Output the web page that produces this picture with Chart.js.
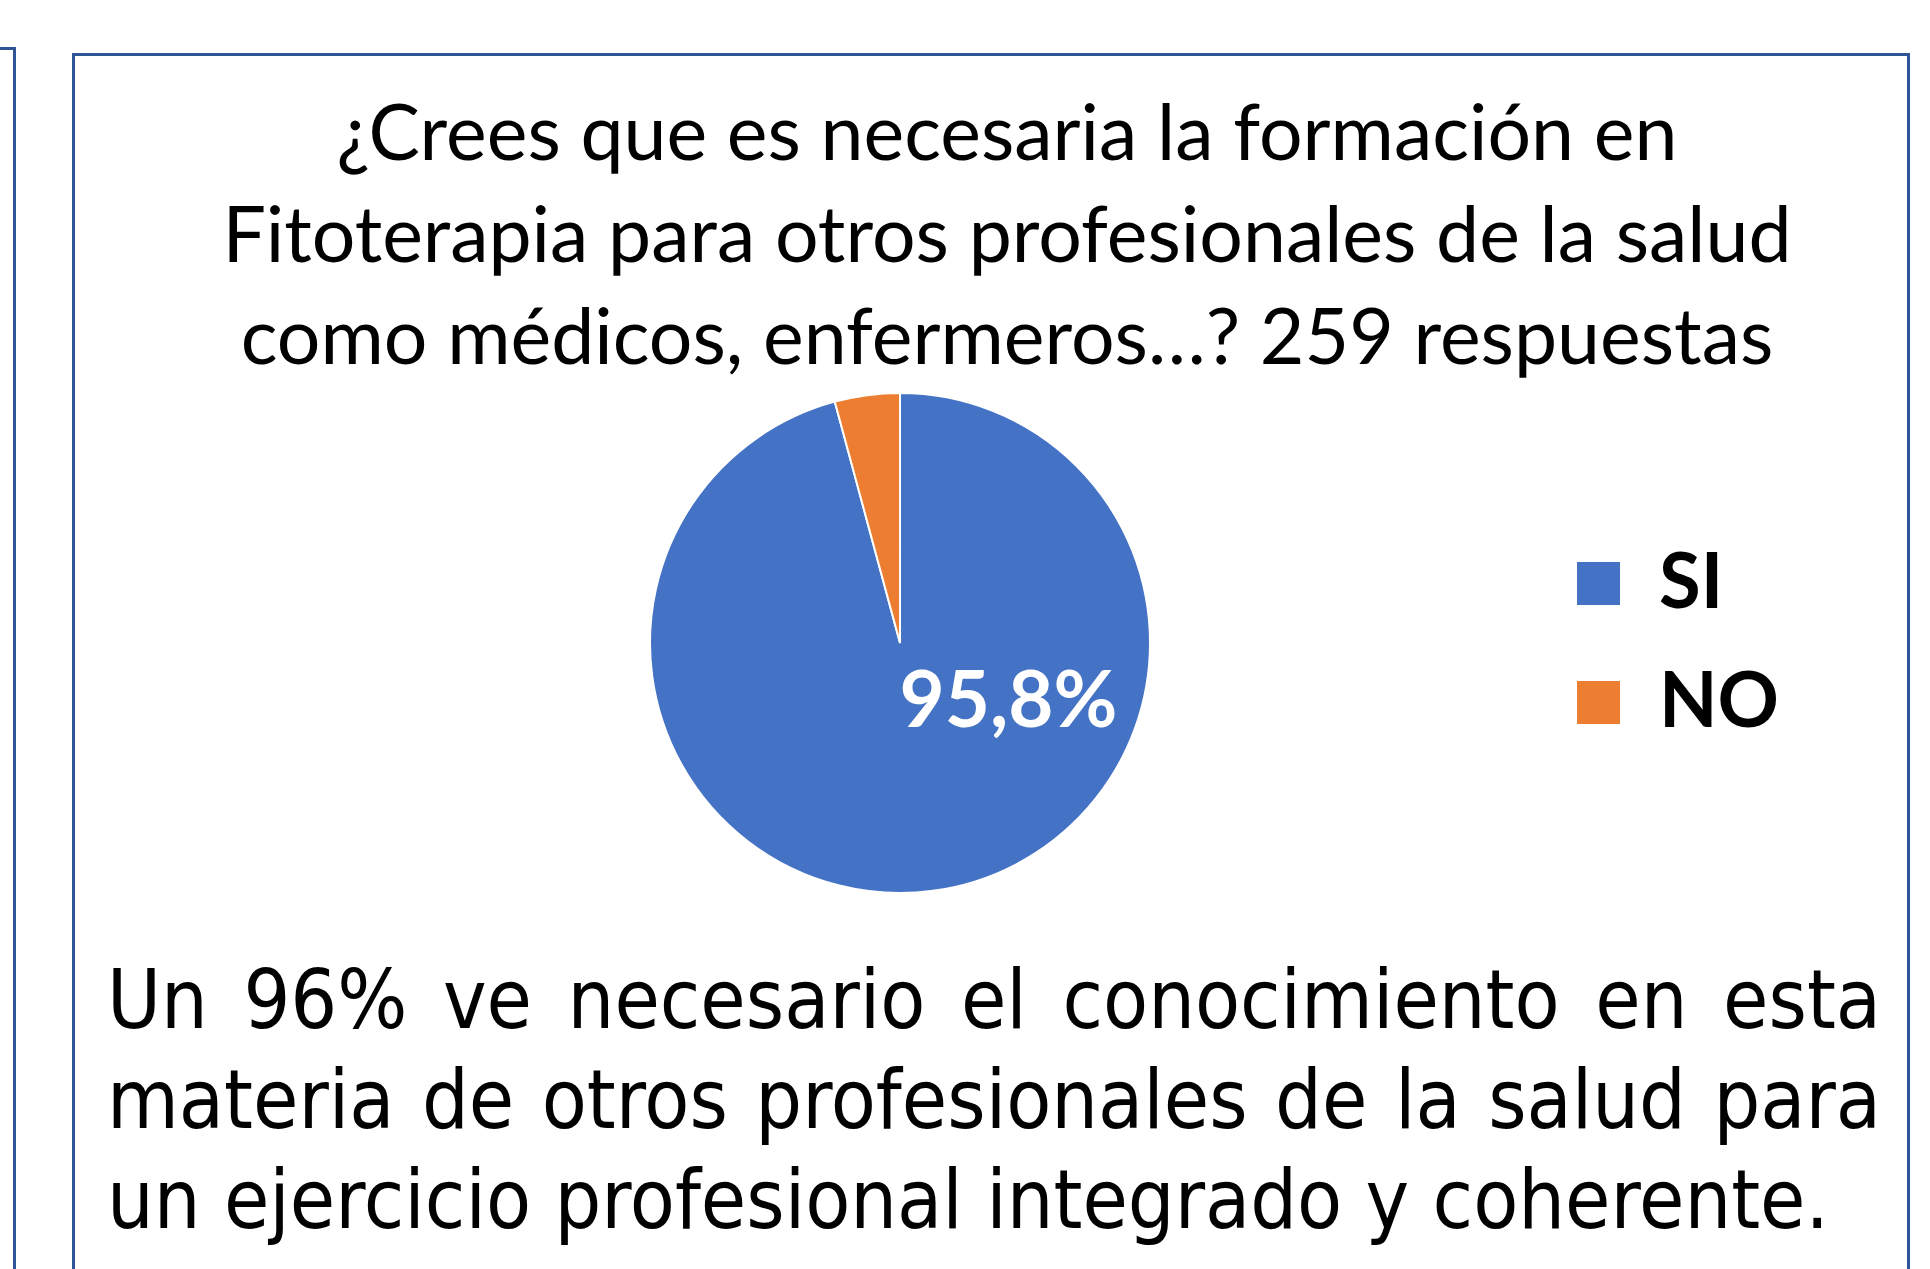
<!DOCTYPE html>
<html lang="es">
<head>
<meta charset="utf-8">
<title>Formación en Fitoterapia</title>
<script src="https://cdn.jsdelivr.net/npm/chart.js@4.4.0/dist/chart.umd.min.js"></script>
<style>
    body { margin: 0; width: 1930px; height: 1269px; overflow: hidden; background: #fff; position: relative; }
    #marcoIzq { position: absolute; left: 0; top: 47px; width: 13px; height: 1400px;
        border-top: 3px solid #2F5597; border-right: 3px solid #2F5597; }
    #marco { position: absolute; left: 72px; top: 53px; width: 1832px; height: 1400px;
        border: 3px solid #2F5597; }
    #titulo { position: absolute; left: 107px; width: 1800px; top: 79px; text-align: center;
        font-family: Lato, "Open Sans", sans-serif; font-size: 77px; line-height: 102px; color: #000; }
    #contenedor { position: absolute; left: 267px; top: 392px; width: 1522px; height: 502px; }
    #conclusion { position: absolute; left: 107px; width: 1774px; top: 950px;
        font-family: "DejaVu Sans Condensed", "DejaVu Sans", sans-serif; font-stretch: condensed;
        font-size: 82px; line-height: 100px; color: #000; }
    #conclusion div { text-align: justify; text-align-last: justify; white-space: nowrap; }
    #conclusion div.ultima { text-align-last: left; }
</style>
</head>
<body>
<div id="marcoIzq"></div>
<div id="marco"></div>
<div id="titulo"></div>
<div id="contenedor"><canvas id="grafico" width="1522" height="502"></canvas></div>
<div id="conclusion"></div>

<script>
// Datos de la encuesta (259 respuestas)
const titulo = [
    "¿Crees que es necesaria la formación en",
    "Fitoterapia para otros profesionales de la salud",
    "como médicos, enfermeros…? 259 respuestas"
];
const respuestas = ["SI", "NO"];
const porcentajes = [95.8, 4.2];
const colores = ["#4472C4", "#ED7D31"];
const conclusion = [
    "Un 96% ve necesario el conocimiento en esta",
    "materia de otros profesionales de la salud para",
    "un ejercicio profesional integrado y coherente."
];

function mostrarTextos() {
    document.getElementById("titulo").innerHTML = titulo.join("<br>");
    const cont = document.getElementById("conclusion");
    conclusion.forEach((linea, i) => {
        const div = document.createElement("div");
        div.textContent = linea;
        if (i === conclusion.length - 1) div.className = "ultima";
        cont.appendChild(div);
    });
}

// Etiqueta de porcentaje dentro del sector "SI"
const etiquetaPorcentaje = {
    id: "etiquetaPorcentaje",
    afterDatasetsDraw(chart) {
        const arco = chart.getDatasetMeta(0).data[0];
        if (!arco) return;
        const ctx = chart.ctx;
        const r = arco.outerRadius;
        const texto = porcentajes[0].toFixed(1).replace(".", ",") + "%";
        ctx.save();
        ctx.fillStyle = "#fff";
        ctx.font = "bold 78px Lato, 'Open Sans', sans-serif";
        ctx.textAlign = "center";
        ctx.textBaseline = "middle";
        ctx.fillText(texto, arco.x + r * 0.434, arco.y + r * 0.235);
        ctx.restore();
    }
};

function mostrarGrafico() {
    const ctx = document.getElementById("grafico").getContext("2d");
    new Chart(ctx, {
        type: "pie",
        data: {
            labels: respuestas,
            datasets: [{
                data: porcentajes,
                backgroundColor: colores,
                borderColor: "#fff",
                borderWidth: 2
            }]
        },
        options: {
            responsive: false,
            animation: false,
            devicePixelRatio: 1,
            layout: { padding: 0 },
            plugins: {
                tooltip: { enabled: false },
                title: { display: false },
                legend: {
                    position: "right",
                    align: "center",
                    labels: {
                        boxWidth: 45,
                        boxHeight: 45,
                        padding: 43,
                        color: "#000",
                        font: { family: "Lato, 'Open Sans', sans-serif", size: 76, weight: "bold" }
                    }
                }
            }
        },
        plugins: [etiquetaPorcentaje]
    });
}

mostrarTextos();
mostrarGrafico();
</script>
</body>
</html>
